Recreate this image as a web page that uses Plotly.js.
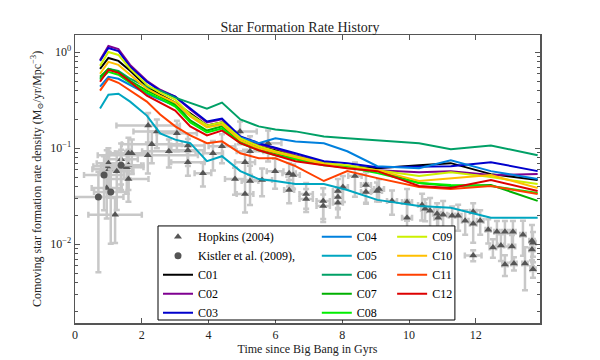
<!DOCTYPE html>
<html>
<head>
<meta charset="utf-8">
<script src="https://cdn.plot.ly/plotly-3.0.1.min.js"></script>
<style>body{margin:0;background:#fff}</style>
</head>
<body>
<div id="sfr" style="width:600px;height:360px"></div>
<script>
// model snapshots (Gyr)
var time = [0.75, 1.0, 1.3, 1.65, 2.15, 2.55, 3.0, 3.45, 3.95, 4.4, 4.95, 5.5, 6.0, 6.6, 7.45, 8.15, 9.05, 10.3, 11.25, 12.45, 13.85];

var c01 = [0.672, 0.873, 0.813, 0.641, 0.438, 0.362, 0.299, 0.230, 0.173, 0.186, 0.127, 0.105, 0.0953, 0.0827, 0.0700, 0.0651, 0.0621, 0.0667, 0.0700, 0.0538, 0.0467];
var c02 = [0.833, 1.162, 1.082, 0.739, 0.505, 0.407, 0.345, 0.253, 0.186, 0.200, 0.130, 0.110, 0.100, 0.0847, 0.0716, 0.0651, 0.0592, 0.0564, 0.0578, 0.0526, 0.0538];
var c03 = [0.813, 1.108, 1.031, 0.705, 0.493, 0.398, 0.345, 0.259, 0.190, 0.204, 0.133, 0.113, 0.102, 0.0888, 0.0734, 0.0700, 0.0636, 0.0651, 0.0651, 0.0716, 0.0578];
var c04 = [0.438, 0.555, 0.530, 0.459, 0.370, 0.321, 0.278, 0.219, 0.169, 0.177, 0.130, 0.113, 0.127, 0.118, 0.113, 0.0931, 0.0651, 0.0621, 0.0751, 0.0578, 0.0478];
var c05 = [0.259, 0.362, 0.370, 0.306, 0.219, 0.143, 0.123, 0.113, 0.0734, 0.0827, 0.0578, 0.0478, 0.0456, 0.0424, 0.0424, 0.0368, 0.0290, 0.0251, 0.0240, 0.0189, 0.0189];
var c06 = [0.530, 0.672, 0.641, 0.530, 0.438, 0.398, 0.337, 0.299, 0.259, 0.299, 0.200, 0.169, 0.157, 0.150, 0.133, 0.127, 0.121, 0.113, 0.0976, 0.107, 0.0847];
var c07 = [0.555, 0.672, 0.626, 0.505, 0.398, 0.345, 0.285, 0.195, 0.153, 0.169, 0.118, 0.100, 0.0888, 0.0788, 0.0683, 0.0651, 0.0578, 0.0435, 0.0405, 0.0414, 0.0283];
var c08 = [0.517, 0.626, 0.583, 0.481, 0.379, 0.329, 0.272, 0.186, 0.146, 0.161, 0.113, 0.0953, 0.0847, 0.0770, 0.0667, 0.0636, 0.0551, 0.0435, 0.0414, 0.0405, 0.0342];
var c09 = [0.722, 1.007, 0.938, 0.672, 0.459, 0.379, 0.321, 0.225, 0.173, 0.186, 0.127, 0.105, 0.0931, 0.0827, 0.0700, 0.0667, 0.0592, 0.0513, 0.0564, 0.0501, 0.0424];
var c10 = [0.597, 0.794, 0.739, 0.583, 0.417, 0.353, 0.299, 0.214, 0.165, 0.177, 0.121, 0.100, 0.0909, 0.0807, 0.0683, 0.0621, 0.0592, 0.0456, 0.0489, 0.0526, 0.0386];
var c11 = [0.398, 0.530, 0.481, 0.398, 0.306, 0.225, 0.169, 0.136, 0.113, 0.118, 0.0888, 0.0788, 0.0788, 0.0651, 0.0456, 0.0578, 0.0489, 0.0395, 0.0377, 0.0405, 0.0334];
var c12 = [0.493, 0.656, 0.611, 0.493, 0.353, 0.299, 0.247, 0.169, 0.136, 0.153, 0.113, 0.0953, 0.0847, 0.0734, 0.0667, 0.0621, 0.0578, 0.0405, 0.0386, 0.0467, 0.0359];

// Hopkins (2004) compilation
var hopT = [0.95, 1.0, 1.02, 1.25, 1.38, 1.6, 1.7, 1.6, 1.55, 1.6, 0.95, 1.2, 2.18, 2.3, 2.45, 2.19, 2.81, 3.05, 3.38, 3.38,
            3.38, 3.83, 4.13, 4.4, 4.94, 4.79, 5.09, 5.24, 5.6, 5.09, 5.24, 5.78, 5.99, 6.41, 6.53, 6.41, 6.92, 6.92, 7.43, 7.43,
            7.87, 7.87, 7.87, 8.02, 8.38, 8.71, 8.71, 9.04, 9.1, 9.49, 9.94, 9.94, 10.39, 10.48, 10.63, 10.84, 10.87, 11.02, 11.29, 11.47,
            11.68, 11.92, 11.92, 12.13, 12.37, 12.63, 12.87, 13.11, 13.41, 13.68, 11.92, 12.51, 12.75, 13.08, 12.87, 13.14, 13.47, 13.71, 13.68, 13.71];
var hopSFR = [0.0651, 0.0700, 0.0606, 0.0578, 0.0770, 0.0888, 0.0888, 0.0667, 0.0636, 0.0478, 0.0386, 0.0203, 0.0847, 0.110, 0.150, 0.173, 0.0931, 0.143, 0.107, 0.0953,
              0.0716, 0.0551, 0.0888, 0.105, 0.150, 0.0478, 0.0334, 0.0456, 0.0467, 0.0716, 0.0931, 0.113, 0.0578, 0.0551, 0.0526, 0.0368, 0.0334, 0.0297, 0.0283, 0.0251,
              0.0359, 0.0311, 0.0270, 0.0395, 0.0513, 0.0414, 0.0351, 0.0359, 0.0377, 0.0283, 0.0276, 0.0189, 0.0257, 0.0234, 0.0223, 0.0208, 0.0189, 0.0203, 0.0198, 0.0198,
              0.0176, 0.0218, 0.0164, 0.0176, 0.0142, 0.0135, 0.0135, 0.0135, 0.0126, 0.0109, 0.00764, 0.00925, 0.00970, 0.00947, 0.00617, 0.00632, 0.00632, 0.00548, 0.00882, 0.0104];
var hopErrT = [0.4, 0.35, 0.5, 0.5, 0.5, 0.55, 0.5, 0.45, 0.5, 0.6, 0.45, 0.8, 1.5, 0.9, 0.7, 0.95, 0.8, 0.6, 0.5, 0.5,
               0.5, 0.25, 0.3, 0.4, 0.5, 0.3, 0.25, 0.25, 0.3, 0.3, 0.4, 0.4, 0.25, 0.2, 0.2, 0.15, 0.2, 0.2, 0.2, 0.2,
               0.15, 0.15, 0.15, 0.15, 0.2, 0.15, 0.15, 0.15, 0.15, 0.15, 0.15, 0.15, 0.12, 0.12, 0.12, 0.12, 0.12, 0.12, 0.1, 0.1,
               0.1, 0.1, 0.1, 0.1, 0.08, 0.08, 0.08, 0.08, 0.08, 0.08, 0.25, 0.1, 0.1, 0.1, 0.08, 0.08, 0.08, 0.08, 0.08, 0.08];
var hopErrSFR = [0.03, 0.03, 0.03, 0.035, 0.035, 0.04, 0.035, 0.03, 0.03, 0.02, 0.02, 0.01, 0.03, 0.04, 0.05, 0.06, 0.03, 0.05, 0.035, 0.03,
                 0.02, 0.015, 0.03, 0.035, 0.04, 0.015, 0.012, 0.02, 0.015, 0.025, 0.04, 0.04, 0.02, 0.015, 0.015, 0.01, 0.01, 0.008, 0.01, 0.008,
                 0.012, 0.008, 0.008, 0.012, 0.02, 0.015, 0.008, 0.008, 0.01, 0.008, 0.01, 0.01, 0.008, 0.006, 0.008, 0.006, 0.005, 0.008, 0.005, 0.006,
                 0.005, 0.005, 0.006, 0.005, 0.004, 0.004, 0.004, 0.004, 0.005, 0.005, 0.001, 0.002, 0.003, 0.003, 0.0015, 0.001, 0.003, 0.001, 0.002, 0.003];

// Kistler et al. (2009)
var kisT = [0.7, 0.87, 1.07, 1.38];
var kisSFR = [0.0311, 0.0526, 0.0351, 0.0667];
var kisErrT = [0.75, 0.6, 0.5, 0.6];
var kisErrSFR = [0.026, 0.03, 0.025, 0.03];

var names = ['C01', 'C02', 'C03', 'C04', 'C05', 'C06', 'C07', 'C08', 'C09', 'C10', 'C11', 'C12'];
var runs = [c01, c02, c03, c04, c05, c06, c07, c08, c09, c10, c11, c12];
var colors = ['#000000', '#7f0091', '#0000cc', '#0080dd', '#00a6c0', '#00a066',
              '#00b000', '#00ee00', '#ccf000', '#ffbf00', '#ff4000', '#dd0000'];
var legendOf = ['legend', 'legend', 'legend', 'legend2', 'legend2', 'legend2',
                'legend2', 'legend2', 'legend3', 'legend3', 'legend3', 'legend3'];

var serif = '"Liberation Serif", "DejaVu Serif", serif';
var errStyle = {type: 'data', color: '#c8c8c8', thickness: 2.5, width: 3};

var data = [
  {
    x: hopT, y: hopSFR, mode: 'markers', name: 'Hopkins (2004)', legend: 'legend',
    marker: {symbol: 'triangle-up', size: 7, color: '#555555'},
    error_x: Object.assign({array: hopErrT}, errStyle),
    error_y: Object.assign({array: hopErrSFR}, errStyle)
  },
  {
    x: kisT, y: kisSFR, mode: 'markers', name: 'Kistler et al. (2009),', legend: 'legend',
    marker: {symbol: 'circle', size: 7, color: '#555555'},
    error_x: Object.assign({array: kisErrT}, errStyle),
    error_y: Object.assign({array: kisErrSFR}, errStyle)
  }
];

for (var i = 0; i < runs.length; i++) {
  data.push({
    x: time, y: runs[i], mode: 'lines', name: names[i], legend: legendOf[i],
    line: {color: colors[i], width: 2}
  });
}

function legendAt(x) {
  return {
    x: x, y: 0.35, xanchor: 'left', yanchor: 'top',
    bgcolor: 'rgba(0,0,0,0)', borderwidth: 0, tracegroupgap: 0,
    font: {family: serif, size: 12, color: '#000'}
  };
}

var axisStyle = {
  showline: true, linecolor: '#555555', linewidth: 1.5, mirror: 'allticks',
  ticks: 'inside', ticklen: 5, tickcolor: '#555555', showgrid: false, zeroline: false,
  tickfont: {family: serif, size: 12, color: '#222'}
};

var layout = {
  width: 600, height: 360,
  margin: {l: 75, r: 60, t: 35, b: 37},
  font: {family: serif, size: 12, color: '#222'},
  paper_bgcolor: '#fff', plot_bgcolor: '#fff',
  title: {text: 'Star Formation Rate History', font: {family: serif, size: 14, color: '#222'}, x: 0.5, xanchor: 'center', y: 0.925, yanchor: 'middle'},
  xaxis: Object.assign({
    range: [0, 13.92], dtick: 2, tick0: 0,
    title: {text: 'Time since Big Bang in Gyrs', font: {family: serif, size: 12, color: '#222'}, standoff: 0}
  }, axisStyle),
  yaxis: Object.assign({
    type: 'log', range: [-2.82, 0.18],
    tickmode: 'array', tickvals: [0.01, 0.1, 1],
    ticktext: ['10<sup>\u22122</sup>', '10<sup>\u22121</sup>', '10<sup>0</sup>'],
    minor: {dtick: 'D1', ticks: 'inside', ticklen: 3, tickcolor: '#555555'},
    title: {text: 'Comoving star formation rate density (M<sub>\u2299</sub>/yr/Mpc<sup>\u22123</sup>)', font: {family: serif, size: 12, color: '#222'}, standoff: 6}
  }, axisStyle),
  showlegend: true,
  legend: legendAt(0.1785),
  legend2: legendAt(0.52),
  legend3: legendAt(0.682),
  shapes: [{
    type: 'rect', xref: 'paper', yref: 'paper', layer: 'above',
    x0: 0.1785, x1: 0.817, y0: 0.0104, y1: 0.337,
    fillcolor: '#fff', line: {color: '#000', width: 1}
  }]
};

Plotly.newPlot('sfr', data, layout, {displayModeBar: false, staticPlot: true});
</script>
</body>
</html>
